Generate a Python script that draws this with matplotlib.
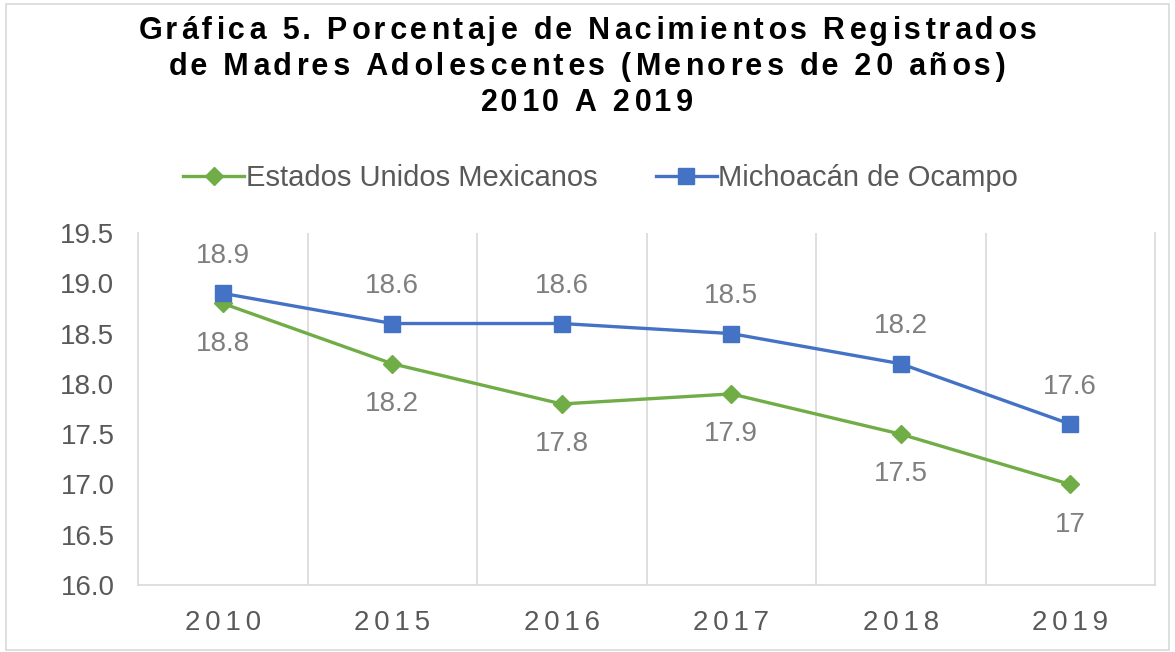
#!/usr/bin/env python3

import matplotlib
matplotlib.use('Agg')
import matplotlib.pyplot as plt
from matplotlib.patches import Rectangle


years = ['2010', '2015', '2016', '2017', '2018', '2019']
nacional = [18.8, 18.2, 17.8, 17.9, 17.5, 17.0]
michoacan = [18.9, 18.6, 18.6, 18.5, 18.2, 17.6]
nacional_labels = ['18.8', '18.2', '17.8', '17.9', '17.5', '17']
michoacan_labels = ['18.9', '18.6', '18.6', '18.5', '18.2', '17.6']
y_ticks = [16.0, 16.5, 17.0, 17.5, 18.0, 18.5, 19.0, 19.5]

green = '#70ad47'
blue = '#4472c4'
text_gray = '#595959'
label_gray = '#7f7f7f'
grid_gray = '#d9d9d9'

HAIR = '\u200a'


def spaced(s, seps=(HAIR,)):
	# fake letter spacing with hair spaces, cycling through seps
	out = s[0]
	for i, ch in enumerate(s[1:]):
		out += seps[i % len(seps)] + ch
	return out


plt.rcParams['font.family'] = ['Liberation Sans', 'DejaVu Sans']

fig = plt.figure(figsize=(11.75, 6.52), dpi=100)
ax = fig.add_axes([138 / 1175, 1 - 585 / 652, 1017 / 1175, 352 / 652])

x = list(range(len(years)))
ax.plot(x, nacional, color=green, lw=2.4, marker='D', markersize=9, label='Estados Unidos Mexicanos', zorder=3)
ax.plot(x, michoacan, color=blue, lw=2.4, marker='s', markersize=11, label='Michoacán de Ocampo', zorder=4)

for xi, v, t in zip(x, nacional, nacional_labels):
	ax.annotate(t, (xi, v), xytext=(0, -29), textcoords='offset points', ha='center', va='center',
	            fontsize=20, color=label_gray)
for xi, v, t in zip(x, michoacan, michoacan_labels):
	ax.annotate(t, (xi, v), xytext=(0, 27), textcoords='offset points', ha='center', va='center',
	            fontsize=20, color=label_gray)

ax.set_xlim(-0.5, len(years) - 0.5)
ax.set_ylim(16.0, 19.5)
ax.set_yticks(y_ticks)
ax.set_yticklabels(['{:.1f}'.format(v) for v in y_ticks])
ax.set_xticks(x)
ax.set_xticklabels([spaced(y, (HAIR * 2,)) for y in years])
ax.set_xticks([i + 0.5 for i in x[:-1]], minor=True)
ax.tick_params(axis='both', which='both', length=0, labelsize=20, labelcolor=text_gray)
ax.tick_params(axis='x', pad=18)
ax.tick_params(axis='y', pad=17)
ax.grid(axis='x', which='minor', color=grid_gray, lw=1.2)

ax.spines['top'].set_visible(False)
for side in ['left', 'right', 'bottom']:
	ax.spines[side].set_color(grid_gray)
	ax.spines[side].set_linewidth(1.2)

title_seps = (HAIR, HAIR * 2)
title = '\n'.join([spaced('Gráfica 5. Porcentaje de Nacimientos Registrados', title_seps),
                   spaced('de Madres Adolescentes (Menores de 20 años)', title_seps),
                   spaced('2010 A 2019', title_seps)])
fig.text(0.5, 1 - 67 / 652, title, ha='center', va='center', fontsize=22, fontweight='bold',
         color='black', linespacing=1.25)

fig.legend(loc='center', bbox_to_anchor=(0.5 + 13 / 1175, 1 - 178 / 652), ncol=2, frameon=False,
           fontsize=21, labelcolor=text_gray, handlelength=2.1, handletextpad=0.05, columnspacing=2.0)

fig.patches.append(Rectangle((6 / 1175, 2 / 652), 1163 / 1175, 646 / 652, transform=fig.transFigure,
                             fill=False, edgecolor=grid_gray, lw=1.2))

fig.savefig('out.png', dpi=100)
